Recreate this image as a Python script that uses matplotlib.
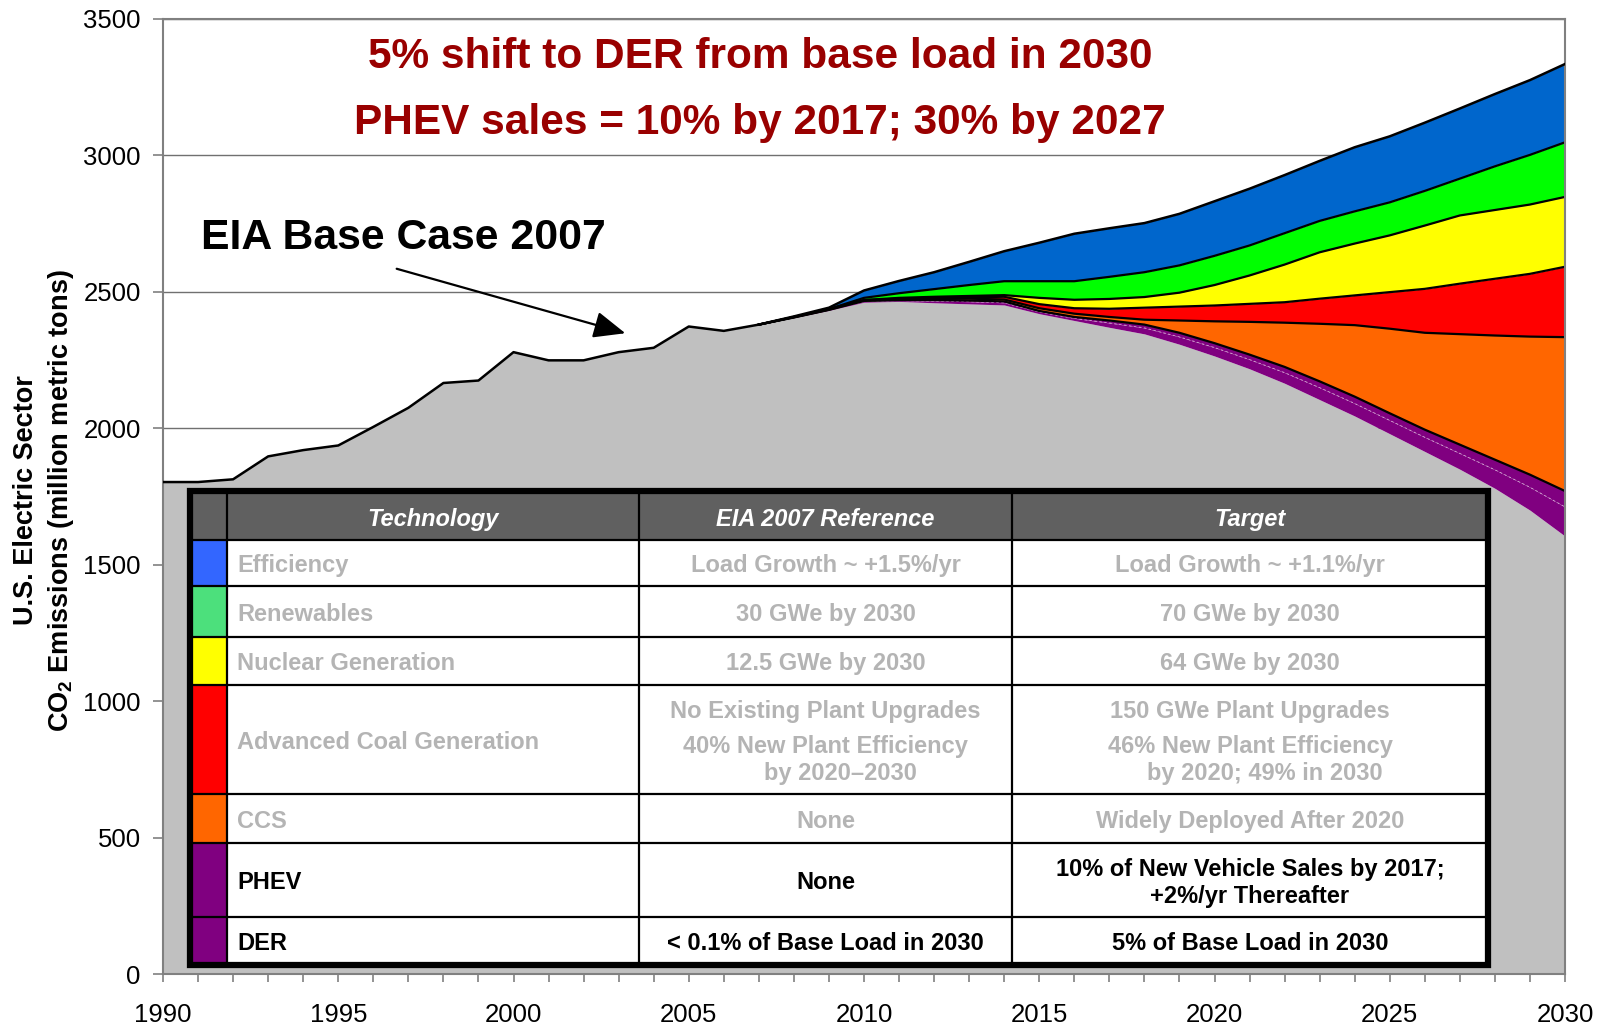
import matplotlib
matplotlib.use("Agg")
import matplotlib.pyplot as plt
from matplotlib.patches import Rectangle
from matplotlib.ticker import MultipleLocator

plt.rcParams['font.family'] = ['Liberation Sans', 'DejaVu Sans']
plt.rcParams['mathtext.fontset'] = 'custom'
plt.rcParams['mathtext.rm'] = 'Liberation Sans'
plt.rcParams['mathtext.bf'] = 'Liberation Sans:bold'

# historical emissions (million metric tons CO2)
hist_years = list(range(1990, 2007))
hist_vals = [1803, 1803, 1813, 1897, 1920, 1937, 2005, 2075, 2166, 2175,
             2279, 2249, 2249, 2279, 2295, 2373, 2357]

# projection: cumulative boundaries of each wedge, 2007-2030
proj_years = list(range(2007, 2031))
gray_top = [2380, 2405, 2432, 2462, 2465, 2460, 2456, 2452, 2420, 2395, 2370, 2346,
            2308, 2265, 2218, 2165, 2105, 2045, 1980, 1915, 1850, 1780, 1700, 1605]
der_top = [2380, 2405, 2433, 2465, 2468, 2466, 2464, 2460, 2427, 2403, 2386, 2368,
           2335, 2296, 2252, 2204, 2149, 2091, 2029, 1967, 1908, 1848, 1784, 1712]
phev_top = [2380, 2406, 2434, 2467, 2470, 2470, 2468, 2465, 2430, 2408, 2395, 2380,
            2350, 2312, 2270, 2225, 2172, 2116, 2055, 1995, 1940, 1885, 1830, 1770]
ccs_top = [2380, 2407, 2435, 2468, 2472, 2474, 2475, 2472, 2440, 2420, 2408, 2398,
           2395, 2392, 2390, 2387, 2383, 2378, 2365, 2350, 2345, 2340, 2336, 2334]
coal_top = [2380, 2408, 2436, 2470, 2475, 2478, 2480, 2482, 2455, 2440, 2438, 2442,
            2446, 2450, 2456, 2462, 2475, 2487, 2499, 2511, 2530, 2548, 2566, 2592]
nuclear_top = [2380, 2408, 2437, 2470, 2478, 2482, 2485, 2488, 2478, 2471, 2474, 2481,
               2497, 2525, 2560, 2600, 2645, 2677, 2707, 2743, 2780, 2800, 2820, 2848]
renew_top = [2380, 2408, 2437, 2478, 2495, 2510, 2525, 2539, 2539, 2539, 2555, 2572,
             2597, 2632, 2670, 2715, 2760, 2795, 2828, 2870, 2915, 2960, 3002, 3048]
eia_total = [2380, 2410, 2442, 2505, 2540, 2572, 2610, 2649, 2680, 2713, 2733, 2752,
             2786, 2832, 2878, 2928, 2980, 3030, 3070, 3120, 3172, 3225, 3276, 3335]

# table content
tech_names = ["Efficiency", "Renewables", "Nuclear Generation", "Advanced Coal Generation",
              "CCS", "PHEV", "DER"]
eia_ref = [["Load Growth ~ +1.5%/yr"], ["30 GWe by 2030"], ["12.5 GWe by 2030"],
           ["No Existing Plant Upgrades", "40% New Plant Efficiency", "by 2020\u20132030"],
           ["None"], ["None"], ["< 0.1% of Base Load in 2030"]]
targets = [["Load Growth ~ +1.1%/yr"], ["70 GWe by 2030"], ["64 GWe by 2030"],
           ["150 GWe Plant Upgrades", "46% New Plant Efficiency", "by 2020; 49% in 2030"],
           ["Widely Deployed After 2020"],
           ["10% of New Vehicle Sales by 2017;", "+2%/yr Thereafter"],
           ["5% of Base Load in 2030"]]
swatch_colors = ["#3366FF", "#4CE07C", "#FFFF00", "#FF0000", "#FF6600", "#800080", "#800080"]
text_colors = ["#B4B4B4"] * 5 + ["black"] * 2

W, H = 1604, 1028
fig = plt.figure(figsize=(W / 100, H / 100), dpi=100)
ax = fig.add_axes([163 / W, 1 - 974 / H, (1565 - 163) / W, (974 - 19) / H])

all_years = hist_years + proj_years
top_line = hist_vals + eia_total
base = hist_vals + gray_top

ax.fill_between(all_years, 0, base, color="#C0C0C0", lw=0, zorder=1)
layers = [
    (gray_top, der_top, "#800080"),
    (der_top, phev_top, "#800080"),
    (phev_top, ccs_top, "#FF6600"),
    (ccs_top, coal_top, "#FF0000"),
    (coal_top, nuclear_top, "#FFFF00"),
    (nuclear_top, renew_top, "#00FF00"),
    (renew_top, eia_total, "#0066CC"),
]
for lo, hi, c in layers:
    ax.fill_between(proj_years, lo, hi, color=c, lw=0, zorder=1)

ax.plot(proj_years, der_top, color="white", lw=0.6, ls=(0, (3, 3)), alpha=0.6, zorder=2)
for line in [phev_top, ccs_top, coal_top, nuclear_top, renew_top]:
    ax.plot(proj_years, line, color="black", lw=1.6, zorder=2)
ax.plot(all_years, top_line, color="black", lw=1.8, zorder=3)

ax.set_xlim(1990, 2030)
ax.set_ylim(0, 3500)
ax.xaxis.set_major_locator(MultipleLocator(5))
ax.xaxis.set_minor_locator(MultipleLocator(1))
ax.yaxis.set_major_locator(MultipleLocator(500))
ax.grid(axis="y", color="#707070", lw=1.0, zorder=0.5)
ax.set_axisbelow(True)
for s in ax.spines.values():
    s.set_color("#808080")
    s.set_linewidth(1.5)
ax.tick_params(axis="x", which="both", direction="out", length=6, color="#808080",
               width=1.2, labelsize=18.5, pad=15)
ax.tick_params(axis="y", direction="out", length=7, color="#808080", width=1.2,
               labelsize=18.5, pad=9)

fig.text(26 / W, 1 - 500 / H, "U.S. Electric Sector", rotation=90, ha="center", va="center",
         fontsize=19.5, fontweight="bold")
fig.text(61 / W, 1 - 501 / H, r"CO$_\mathbf{2}$ Emissions (million metric tons)", rotation=90,
         ha="center", va="center", fontsize=19.5, fontweight="bold")

fig.text(760 / W, 1 - 57 / H, "5% shift to DER from base load in 2030", ha="center",
         va="center", fontsize=30.5, fontweight="bold", color="#990000")
fig.text(760 / W, 1 - 123 / H, "PHEV sales = 10% by 2017; 30% by 2027", ha="center",
         va="center", fontsize=30.5, fontweight="bold", color="#990000")

fig.text(201 / W, 1 - 238 / H, "EIA Base Case 2007", ha="left", va="center",
         fontsize=30.8, fontweight="bold", color="black")
fig.patches.append(matplotlib.patches.FancyArrowPatch(
    (394 / W, 1 - 268 / H), (628 / W, 1 - 334 / H), transform=fig.transFigure,
    arrowstyle="-|>,head_length=13,head_width=5.5", color="black", lw=1.6,
    mutation_scale=1.5))

# table inset, drawn in pixel coordinates
tx0, tx1, ty0, ty1 = 190, 1488, 491, 965
tb = fig.add_axes([tx0 / W, 1 - ty1 / H, (tx1 - tx0) / W, (ty1 - ty0) / H], zorder=5)
tb.set_xlim(tx0, tx1)
tb.set_ylim(ty1, ty0)
tb.axis("off")

col_x = [tx0, 227, 639, 1012, tx1]
row_y = [ty0, 540, 586, 637, 685, 794, 843, 917, ty1]

tb.add_patch(Rectangle((tx0, ty0), tx1 - tx0, ty1 - ty0, facecolor="white", edgecolor="none"))
tb.add_patch(Rectangle((tx0, ty0), tx1 - tx0, row_y[1] - ty0, facecolor="#606060",
                       edgecolor="none"))
for i, c in enumerate(swatch_colors):
    tb.add_patch(Rectangle((tx0, row_y[i + 1]), col_x[1] - tx0, row_y[i + 2] - row_y[i + 1],
                           facecolor=c, edgecolor="none"))
for y in row_y[1:-1]:
    tb.plot([tx0, tx1], [y, y], color="black", lw=1.6, clip_on=False)
for x in col_x[1:-1]:
    tb.plot([x, x], [ty0, ty1], color="black", lw=1.6, clip_on=False)
tb.add_patch(Rectangle((tx0, ty0), tx1 - tx0, ty1 - ty0, facecolor="none", edgecolor="black",
                       lw=4.5, clip_on=False))

hdr_y = (row_y[0] + row_y[1]) / 2 + 4
for x, label in zip([(col_x[1] + col_x[2]) / 2, (col_x[2] + col_x[3]) / 2,
                     (col_x[3] + col_x[4]) / 2],
                    ["Technology", "EIA 2007 Reference", "Target"]):
    tb.text(x, hdr_y, label, ha="center", va="center", fontsize=17, fontweight="bold",
            fontstyle="italic", color="white")

def cell_lines(lines, ymid, y0, y1):
    if len(lines) == 1:
        return [ymid]
    if len(lines) == 2:
        return [ymid - 13, ymid + 14]
    return [y0 + 27, y0 + 62, y0 + 89]

for i in range(len(tech_names)):
    y0, y1 = row_y[i + 1], row_y[i + 2]
    ymid = (y0 + y1) / 2 + 3
    tc = text_colors[i]
    tb.text(237, ymid, tech_names[i], ha="left", va="center", fontsize=17,
            fontweight="bold", color=tc)
    for col, content in [(2, eia_ref[i]), (3, targets[i])]:
        xc = (col_x[col] + col_x[col + 1]) / 2
        for k, (txt, yy) in enumerate(zip(content, cell_lines(content, ymid, y0, y1))):
            dx = 15 if len(content) == 3 and k == 2 else 0
            tb.text(xc + dx, yy, txt, ha="center", va="center", fontsize=17,
                    fontweight="bold", color=tc)

fig.savefig("out.png", dpi=100)
